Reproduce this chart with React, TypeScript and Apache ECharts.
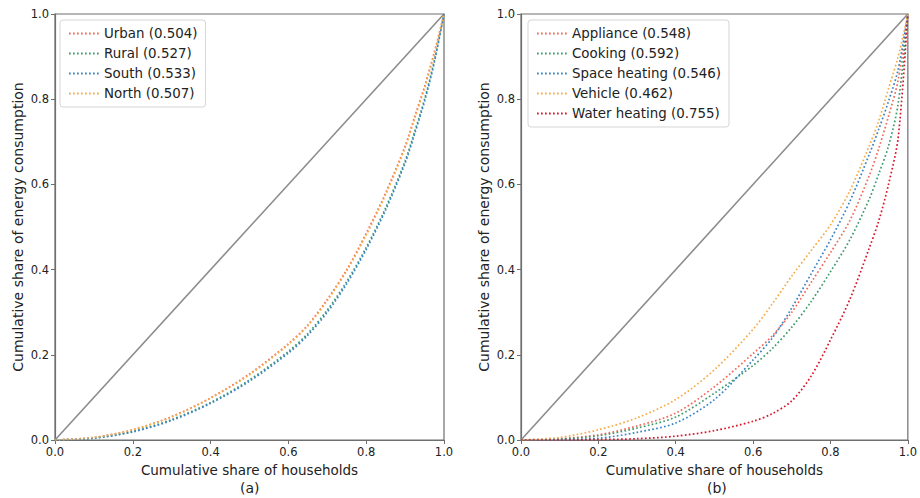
import React, { useEffect, useRef } from "react";
import * as echarts from "echarts";

// Cumulative share of households (x positions of read points)
const householdShare = [0, 0.1, 0.2, 0.3, 0.4, 0.5, 0.6, 0.65, 0.7, 0.75, 0.8, 0.85, 0.9, 0.925, 0.95, 0.975, 1];

// Panel (a)
const urban = [0, 0.006, 0.024, 0.055, 0.099, 0.155, 0.226, 0.27, 0.33, 0.4, 0.485, 0.58, 0.69, 0.76, 0.83, 0.91, 1];
const rural = [0, 0.005, 0.02, 0.048, 0.088, 0.141, 0.208, 0.25, 0.305, 0.372, 0.452, 0.545, 0.655, 0.725, 0.8, 0.89, 1];
const south = [0, 0.004, 0.019, 0.046, 0.086, 0.138, 0.204, 0.246, 0.3, 0.367, 0.447, 0.54, 0.65, 0.72, 0.795, 0.886, 1];
const north = [0, 0.006, 0.024, 0.054, 0.098, 0.153, 0.224, 0.268, 0.327, 0.397, 0.481, 0.576, 0.686, 0.756, 0.826, 0.906, 1];

// Panel (b)
const appliance = [0, 0.003, 0.012, 0.033, 0.063, 0.125, 0.203, 0.245, 0.3, 0.37, 0.44, 0.515, 0.62, 0.685, 0.76, 0.845, 1];
const cooking = [0, 0.002, 0.01, 0.028, 0.054, 0.11, 0.175, 0.215, 0.265, 0.325, 0.395, 0.47, 0.565, 0.625, 0.69, 0.79, 1];
const spaceHeating = [0, 0.001, 0.004, 0.018, 0.04, 0.095, 0.188, 0.24, 0.31, 0.39, 0.47, 0.56, 0.67, 0.73, 0.795, 0.87, 1];
const vehicle = [0, 0.006, 0.024, 0.052, 0.095, 0.165, 0.26, 0.32, 0.385, 0.445, 0.505, 0.585, 0.69, 0.75, 0.825, 0.9, 1];
const waterHeating = [0, 0, 0.001, 0.003, 0.009, 0.022, 0.044, 0.062, 0.092, 0.15, 0.235, 0.33, 0.45, 0.515, 0.6, 0.71, 1];

const namesA = ["Urban (0.504)", "Rural (0.527)", "South (0.533)", "North (0.507)"];
const namesB = ["Appliance (0.548)", "Cooking (0.592)", "Space heating (0.546)", "Vehicle (0.462)", "Water heating (0.755)"];
const tickLabels = ["0.0", "0.2", "0.4", "0.6", "0.8", "1.0"];

const colRed = "#f26b5b";
const colGreen = "#3f9b6e";
const colBlue = "#3a84c4";
const colOrange = "#f5ac4a";
const colCrimson = "#d7182a";

const FONT = "DejaVu Sans";

function pairs(ys: number[]) {
  return householdShare.map((x, i) => [x, ys[i]]);
}

export default function App() {
  const ref = useRef<HTMLDivElement>(null);
  useEffect(() => {
    if (!ref.current) return;
    const chart = echarts.init(ref.current, undefined, { renderer: "svg" });
    const grids = [
      { left: 55, top: 14, width: 389, height: 426 },
      { left: 521, top: 14, width: 390, height: 426 },
    ];
    const axisCommon = {
      type: "value" as const,
      min: 0,
      max: 1,
      interval: 0.2,
      splitLine: { show: false },
      axisLine: { show: true, lineStyle: { color: "#6e6e6e", width: 1.2 } },
      axisTick: { show: true, length: 4, inside: false, lineStyle: { color: "#6e6e6e" } },
      axisLabel: {
        color: "#222",
        fontSize: 11.5,
        fontFamily: FONT,
        margin: 6,
        formatter: (v: number) => tickLabels[Math.round(v * 5)] ?? "",
      },
    };
    const xAxes = [0, 1].map((g) => ({
      ...axisCommon,
      gridIndex: g,
      name: "Cumulative share of households",
      nameLocation: "middle",
      nameGap: 23,
      nameTextStyle: { color: "#222", fontSize: 13.5, fontFamily: FONT },
    }));
    const yAxes = [0, 1].map((g) => ({
      ...axisCommon,
      gridIndex: g,
      name: "Cumulative share of energy consumption",
      nameLocation: "middle",
      nameGap: 30,
      nameTextStyle: { color: "#222", fontSize: 14, fontFamily: FONT },
    }));
    const dotted = (name: string, ys: number[], color: string, g: number) => ({
      name,
      type: "line",
      xAxisIndex: g,
      yAxisIndex: g,
      data: pairs(ys),
      smooth: 0.3,
      symbol: "none",
      showSymbol: false,
      lineStyle: { color, width: 1.7, type: [1.7, 2.3] },
      itemStyle: { color },
      z: 3,
    });
    const diag = (g: number) => ({
      name: "equality" + g,
      type: "line",
      xAxisIndex: g,
      yAxisIndex: g,
      data: [
        [0, 0],
        [1, 1],
      ],
      symbol: "none",
      lineStyle: { color: "#8c8c8c", width: 1.6 },
      z: 2,
    });
    const legendCommon = {
      orient: "vertical" as const,
      itemWidth: 30,
      itemHeight: 12,
      itemGap: 7,
      padding: [7, 8, 7, 8],
      borderColor: "#d5d5d5",
      borderWidth: 1,
      borderRadius: 3,
      backgroundColor: "#fff",
      textStyle: { color: "#222", fontSize: 13.4, fontFamily: FONT },
      itemStyle: { opacity: 0 },
    };
    chart.setOption({
      animation: false,
      backgroundColor: "#fff",
      grid: grids.map((g) => ({ ...g, show: true, borderColor: "#6e6e6e", borderWidth: 1.2, backgroundColor: "transparent" })),
      xAxis: xAxes,
      yAxis: yAxes,
      legend: [
        { ...legendCommon, data: namesA, left: 60, top: 20 },
        { ...legendCommon, data: namesB, left: 528, top: 20 },
      ],
      graphic: [
        { type: "text", left: 240, top: 481, style: { text: "(a)", fill: "#222", fontSize: 14, fontFamily: FONT } },
        { type: "text", left: 707, top: 481, style: { text: "(b)", fill: "#222", fontSize: 14, fontFamily: FONT } },
      ],
      series: [
        diag(0),
        diag(1),
        dotted(namesA[0], urban, colRed, 0),
        dotted(namesA[1], rural, colGreen, 0),
        dotted(namesA[2], south, colBlue, 0),
        dotted(namesA[3], north, colOrange, 0),
        dotted(namesB[0], appliance, colRed, 1),
        dotted(namesB[1], cooking, colGreen, 1),
        dotted(namesB[2], spaceHeating, colBlue, 1),
        dotted(namesB[3], vehicle, colOrange, 1),
        dotted(namesB[4], waterHeating, colCrimson, 1),
      ],
    });
    return () => chart.dispose();
  }, []);
  return <div ref={ref} style={{ position: "fixed", left: 0, top: 0, width: 920, height: 498 }} />;
}
